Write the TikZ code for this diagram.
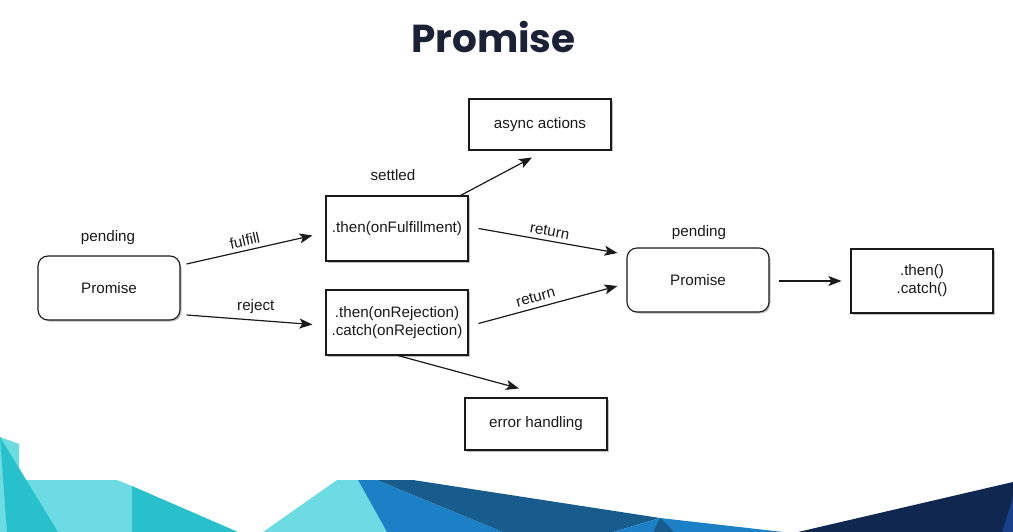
\documentclass[tikz,border=0pt]{standalone}
\usepackage{fontspec}
\setmainfont{Liberation Sans}
\newfontfamily\titlefont{Poppins}
\usetikzlibrary{arrows.meta,calc}
\definecolor{lcyan}{HTML}{6CDCE2}
\definecolor{dcyan}{HTML}{28C1CB}
\definecolor{mblue}{HTML}{1B80C5}
\definecolor{dteal}{HTML}{175C8D}
\definecolor{navy}{HTML}{10284F}
\definecolor{rblue}{HTML}{173F8A}
\definecolor{titlecol}{HTML}{1B2136}
\definecolor{inkcol}{HTML}{1A1A1A}
\tikzset{
  x=1pt,y=-1pt,
  diagtext/.style={font=\fontsize{15.2}{18}\selectfont, text=inkcol, align=center},
  sqbox/.style={diagtext, draw=inkcol, line width=1.1pt, fill=white, minimum width=142pt, minimum height=#1, inner sep=0pt},
  rbox/.style={sqbox=64pt, rounded corners=10pt},
  shadowbox/.style={fill=black!25, draw=none},
  arr/.style={draw=inkcol, line width=1.2pt, -{Stealth[length=13pt,width=10pt,inset=3pt]}},
  lbl/.style={diagtext, inner sep=0pt},
}
\begin{document}
\begin{tikzpicture}
\useasboundingbox (0,0) rectangle (1013,532);
% bottom band
\fill[lcyan] (0,437) -- (19,444) -- (19,480) -- (117,480) -- (132,486) -- (132,532) -- (0,532) -- cycle;
\fill[dcyan] (0,437) -- (58,532) -- (7,532) -- cycle;
\fill[dcyan] (132,486) -- (238,532) -- (132,532) -- cycle;
\fill[lcyan] (263,532) -- (337,480) -- (358,480) -- (387,532) -- cycle;
\fill[mblue] (358,480) -- (377,480) -- (503,532) -- (387,532) -- cycle;
\fill[dteal] (377,480) -- (413,480) -- (660,518) -- (613,532) -- (503,532) -- cycle;
\fill[mblue] (613,532) -- (660,518) -- (783,532) -- cycle;
\fill[dteal] (660,518) -- (653,532) -- (674,532) -- cycle;
\fill[navy] (798,532) -- (1013,482) -- (1013,532) -- cycle;
\fill[rblue] (1013,497) -- (1002,532) -- (1013,532) -- cycle;
% title
\node[font=\titlefont\bfseries\fontsize{39}{41}\selectfont, text=titlecol, inner sep=0pt] (title) at (493.5,37) {Promise};
% shadows
\fill[shadowbox, rounded corners=10pt] (40,258) rectangle (181.5,321.5);
\fill[shadowbox] (328,198) rectangle (469.5,262.5);
\fill[shadowbox] (328,292) rectangle (469.5,356.5);
\fill[shadowbox] (471,101) rectangle (612.5,151.5);
\fill[shadowbox] (467,400) rectangle (608.5,451.5);
\fill[shadowbox, rounded corners=10pt] (629,250) rectangle (770.5,313.5);
\fill[shadowbox] (853,251) rectangle (994.5,314.5);
% nodes
\node[rbox] (p1) at (109,288) {Promise};
\node[sqbox=65pt] (fbox) at (397,228.5) {.then(onFulfillment)};
\node[sqbox=65pt] (rjbox) at (397,322.5) {.then(onRejection)\\.catch(onRejection)};
\node[sqbox=51pt] (abox) at (540,124.5) {async actions};
\node[sqbox=52pt] (ebox) at (536,424) {error handling};
\node[rbox] (p2) at (698,280) {Promise};
\node[sqbox=64pt] (tbox) at (922,281) {.then()\\.catch()};
% labels
\node[lbl] (pend1) at (108,238) {pending};
\node[lbl] (settled) at (393,175) {settled};
\node[lbl] (pend2) at (699,233) {pending};
% connectors
\draw[arr] ($(p1.east)+(6,-24)$) -- node[lbl, above=4pt, sloped, pos=0.48] (lfulfill) {fulfill} ($(fbox.west)+(-13,7)$);
\draw[arr] ($(p1.east)+(6,27)$) -- node[lbl, pos=0.55, yshift=14pt] (lreject) {reject} ($(rjbox.west)+(-13,2)$);
\draw[arr] ($(fbox.north east)+(-8,0)$) -- ($(abox.south)+(-8,7)$);
\draw[arr] ($(fbox.east)+(10,0)$) -- node[lbl, above=4pt, sloped] (lret1) {return} ($(p2.west)+(-9,-27)$);
\draw[arr] ($(rjbox.east)+(10,1)$) -- node[lbl, above=5pt, sloped, pos=0.43] (lret2) {return} ($(p2.west)+(-9,6)$);
\draw[arr] ($(rjbox.south)+(1,0)$) -- ($(ebox.north)+(-17,-9)$);
\draw[arr] ($(p2.east)+(9,1)$) -- ($(tbox.west)+(-9,0)$);
\end{tikzpicture}
\end{document}
